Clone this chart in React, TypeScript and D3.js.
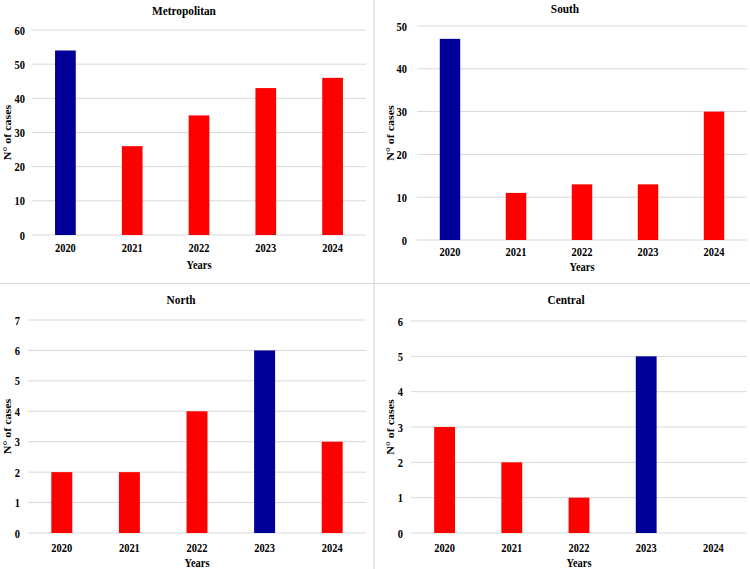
import { useEffect, useRef } from 'react';
import * as d3 from 'd3';

// ─── Data ──────────────────────────────────────────────────

const years = ['2020', '2021', '2022', '2023', '2024'];

const metropolitanCases = [54, 26, 35, 43, 46];
const southCases = [47, 11, 13, 13, 30];
const northCases = [2, 2, 4, 6, 3];
const centralCases = [3, 2, 1, 5, 0];

// index of the peak year drawn in blue
const metropolitanPeak = 0;
const southPeak = 0;
const northPeak = 3;
const centralPeak = 3;

const metropolitanTicks = [0, 10, 20, 30, 40, 50, 60];
const southTicks = [0, 10, 20, 30, 40, 50];
const northTicks = [0, 1, 2, 3, 4, 5, 6, 7];
const centralTicks = [0, 1, 2, 3, 4, 5, 6];

// ─── Layout ────────────────────────────────────────────────

interface Panel {
  title: string;
  values: number[];
  peak: number;
  ticks: number[];
  // plot frame in page px
  x0: number; x1: number; yTop: number; yBottom: number;
  titleX: number; titleY: number;
  tickRight: number;
  xTickY: number;
  xTitleY: number;
  yTitleX: number;
}

const panels: Panel[] = [
  {
    title: 'Metropolitan', values: metropolitanCases, peak: metropolitanPeak, ticks: metropolitanTicks,
    x0: 32, x1: 366, yTop: 30, yBottom: 235,
    titleX: 184, titleY: 15, tickRight: 25, xTickY: 252, xTitleY: 269, yTitleX: 11,
  },
  {
    title: 'South', values: southCases, peak: southPeak, ticks: southTicks,
    x0: 417, x1: 747, yTop: 26, yBottom: 240,
    titleX: 565, titleY: 13, tickRight: 407, xTickY: 256, xTitleY: 271, yTitleX: 394,
  },
  {
    title: 'North', values: northCases, peak: northPeak, ticks: northTicks,
    x0: 28, x1: 366, yTop: 320, yBottom: 533,
    titleX: 181, titleY: 304, tickRight: 20, xTickY: 552, xTitleY: 567, yTitleX: 11,
  },
  {
    title: 'Central', values: centralCases, peak: centralPeak, ticks: centralTicks,
    x0: 411, x1: 747, yTop: 321, yBottom: 533,
    titleX: 566, titleY: 304, tickRight: 403, xTickY: 552, xTitleY: 567, yTitleX: 394,
  },
];

const W = 750;
const H = 569;
const SQUEEZE = 0.87;
const FONT = 'Liberation Serif, Times New Roman, serif';
const BLUE = '#000099';
const RED = '#ff0000';
const GRID = '#d9d9d9';

export default function App() {
  const svgRef = useRef<SVGSVGElement>(null);

  useEffect(() => {
    document.body.style.margin = '0';
    if (!svgRef.current) return;
    const svg = d3.select(svgRef.current);
    svg.selectAll('*').remove();

    svg.append('rect').attr('width', W).attr('height', H).attr('fill', '#fff');

    // condensed bold serif text, optionally rotated
    const label = (
      g: d3.Selection<SVGGElement, unknown, null, undefined>,
      x: number, y: number, text: string, size: number,
      anchor = 'middle', rotate = 0,
    ) => {
      g.append('text')
        .attr('transform', `translate(${x},${y}) scale(${SQUEEZE},1)${rotate ? ` rotate(${rotate})` : ''}`)
        .attr('text-anchor', anchor)
        .style('font-family', FONT)
        .style('font-weight', 'bold')
        .style('font-size', `${size}px`)
        .attr('fill', '#000')
        .text(text);
    };

    // panel dividers
    svg.append('line')
      .attr('x1', 374).attr('x2', 374).attr('y1', 0).attr('y2', H)
      .attr('stroke', GRID).attr('stroke-width', 1.2);
    svg.append('line')
      .attr('x1', 0).attr('x2', W).attr('y1', 283.5).attr('y2', 283.5)
      .attr('stroke', GRID).attr('stroke-width', 1.2);

    panels.forEach((p) => {
      const g = svg.append('g');
      const maxTick = p.ticks[p.ticks.length - 1];

      const x = d3.scaleBand<string>()
        .domain(years)
        .range([p.x0, p.x1])
        .paddingInner(0.69)
        .paddingOuter(0.345);

      const y = d3.scaleLinear()
        .domain([0, maxTick])
        .range([p.yBottom, p.yTop]);

      // Grid
      g.append('g').selectAll('line')
        .data(p.ticks)
        .join('line')
        .attr('x1', p.x0).attr('x2', p.x1)
        .attr('y1', (d) => y(d)).attr('y2', (d) => y(d))
        .attr('stroke', GRID)
        .attr('stroke-width', 1);

      // Bars
      g.append('g').selectAll('rect')
        .data(p.values.map((v, i) => ({ year: years[i], v, i })))
        .join('rect')
        .attr('x', (d) => x(d.year) ?? 0)
        .attr('y', (d) => y(d.v))
        .attr('width', x.bandwidth())
        .attr('height', (d) => y(0) - y(d.v))
        .attr('fill', (d) => (d.i === p.peak ? BLUE : RED));

      // Y tick labels
      p.ticks.forEach((t) => label(g, p.tickRight, y(t) + 4.5, String(t), 12, 'end'));

      // X tick labels
      years.forEach((yr) => label(g, (x(yr) ?? 0) + x.bandwidth() / 2, p.xTickY, yr, 12));

      // Titles
      label(g, p.titleX, p.titleY, p.title, 13);
      label(g, (p.x0 + p.x1) / 2, p.xTitleY, 'Years', 12);
      label(g, p.yTitleX, (p.yTop + p.yBottom) / 2, 'N° of cases', 12, 'middle', -90);
    });
  }, []);

  return (
    <div style={{ position: 'absolute', left: 0, top: 0, width: W, height: H }}>
      <svg ref={svgRef} width={W} height={H} style={{ display: 'block' }} />
    </div>
  );
}
